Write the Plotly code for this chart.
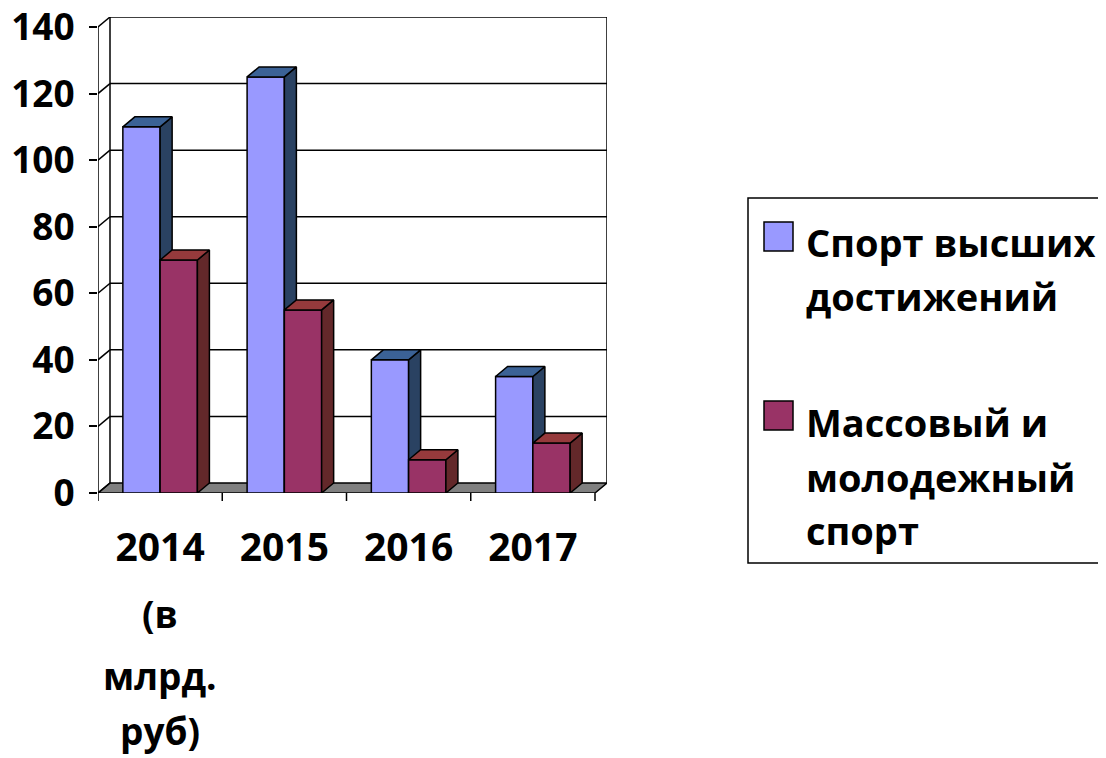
import plotly.graph_objects as go

# ---------------- data ----------------
years = ["2014", "2015", "2016", "2017"]
elite_sport = [110, 125, 40, 35]      # Спорт высших достижений
mass_sport = [70, 55, 10, 15]         # Массовый и молодежный спорт
series_names = ["Спорт высших достижений", "Массовый и молодежный спорт"]
legend_lines = [["Спорт высших", "достижений"], ["Массовый и", "молодежный", "спорт"]]
unit_note = ["(в", "млрд.", "руб)"]
y_ticks = [0, 20, 40, 60, 80, 100, 120, 140]

# ---------------- styling / geometry ----------------
FONT = "Open Sans"
BW = 0.3            # bar width (category units)
DX = 0.0966         # 3D depth offset in x units
DY = 3.0            # 3D depth offset in y units
YMAX = 140
X0, X1 = -0.5, len(years) - 0.5

PAGE = 8            # browser body margin (page offset of the figure)
W, H = 1106, 758
# plot area in screenshot pixels: x 98..607, y 17..493
L = 98 - PAGE
T = 17 - PAGE
R = W - (607 - PAGE)
B = H - (493 - PAGE)
PW = W - L - R
PH = H - T - B


def px_to_paper_x(px):
    return (px - PAGE - L) / PW


def px_to_paper_y(py):
    return (H - B - (py - PAGE)) / PH


colors = [
    dict(front="#9999FF", side="#2A4262", top="#3B6296"),
    dict(front="#993366", side="#63282A", top="#963A3C"),
]


def faces(values, off):
    fx, fy, sx, sy, tx, ty = [], [], [], [], [], []
    for i, v in enumerate(values):
        a = i + off
        b = a + BW
        fx += [a, b, b, a, a, None]
        fy += [0, 0, v, v, 0, None]
        sx += [b, b + DX, b + DX, b, b, None]
        sy += [0, DY, v + DY, v, 0, None]
        tx += [a, b, b + DX, a + DX, a, None]
        ty += [v, v, v + DY, v + DY, v, None]
    return (fx, fy), (sx, sy), (tx, ty)


fig = go.Figure()

for k, (vals, off) in enumerate([(elite_sport, -BW), (mass_sport, 0.0)]):
    front, side, top = faces(vals, off)
    for (xs, ys), key in [(front, "front"), (side, "side"), (top, "top")]:
        fig.add_trace(go.Scatter(
            x=xs, y=ys, mode="lines", fill="toself",
            fillcolor=colors[k][key],
            line=dict(color="black", width=1.5),
            name=series_names[k], showlegend=False, hoverinfo="skip",
        ))

shapes = []
line_k = dict(color="black", width=1.5)
# floor
shapes.append(dict(type="path", xref="x", yref="y", layer="below",
                   path=f"M {X0},0 L {X1},0 L {X1+DX},{DY} L {X0+DX},{DY} Z",
                   fillcolor="#808080", line=line_k))
# back wall gridlines and connectors
for v in y_ticks:
    if v > 0:
        shapes.append(dict(type="line", xref="x", yref="y", layer="below",
                           x0=X0 + DX, x1=X1 + DX, y0=v + DY, y1=v + DY, line=line_k))
    shapes.append(dict(type="line", xref="x", yref="y", layer="below",
                       x0=X0, x1=X0 + DX, y0=v, y1=v + DY, line=line_k))
# back wall left/right edges
shapes.append(dict(type="line", xref="x", yref="y", layer="below",
                   x0=X0 + DX, x1=X0 + DX, y0=DY, y1=YMAX + DY, line=line_k))
shapes.append(dict(type="line", xref="x", yref="y", layer="below",
                   x0=X1 + DX, x1=X1 + DX, y0=DY, y1=YMAX + DY, line=line_k))
# front y axis line
shapes.append(dict(type="line", xref="x", yref="y",
                   x0=X0, x1=X0, y0=0, y1=YMAX, line=line_k))
# x-axis tick marks at category boundaries
for i in range(len(years) + 1):
    xb = X0 + i
    shapes.append(dict(type="line", xref="x", yref="paper",
                       x0=xb, x1=xb, y0=0, y1=-8 / PH, line=line_k))

# legend box and swatches
shapes.append(dict(type="rect", xref="paper", yref="paper",
                   x0=px_to_paper_x(748), x1=px_to_paper_x(1106),
                   y0=px_to_paper_y(563), y1=px_to_paper_y(198),
                   line=dict(color="black", width=1.5), fillcolor="rgba(0,0,0,0)"))
sw_top = [222, 401]
for k, ty in enumerate(sw_top):
    shapes.append(dict(type="rect", xref="paper", yref="paper",
                       x0=px_to_paper_x(764), x1=px_to_paper_x(793),
                       y0=px_to_paper_y(ty + 29), y1=px_to_paper_y(ty),
                       line=dict(color="black", width=1.5), fillcolor=colors[k]["front"]))

annotations = []
bold = dict(family=FONT, size=38, color="black", weight="bold")
legend_y = [[242, 296], [422, 477, 530]]
for k, lines in enumerate(legend_lines):
    for txt, py in zip(lines, legend_y[k]):
        annotations.append(dict(text=txt, xref="paper", yref="paper",
                                x=px_to_paper_x(804), y=px_to_paper_y(py),
                                xanchor="left", yanchor="middle", showarrow=False,
                                font=bold))
for txt, py in zip(unit_note, [613, 675, 730]):
    annotations.append(dict(text=txt, xref="x", yref="paper", x=0,
                            y=px_to_paper_y(py), xanchor="center", yanchor="middle",
                            showarrow=False, font=dict(bold, size=37)))

fig.update_layout(
    width=W, height=H,
    margin=dict(l=L, r=R, t=T, b=B),
    paper_bgcolor="white", plot_bgcolor="white",
    showlegend=False,
    shapes=shapes, annotations=annotations,
    xaxis=dict(range=[X0, X1 + DX], tickvals=list(range(len(years))), ticktext=years,
               showgrid=False, zeroline=False, showline=False, ticks="",
               automargin=False, ticklabelstandoff=28, ticklabeloverflow="allow",
               tickfont=dict(family=FONT, size=39, color="black", weight="bold")),
    yaxis=dict(range=[0, YMAX + DY], tickvals=y_ticks, showgrid=False, zeroline=False,
               showline=False, ticks="outside", ticklen=8, tickwidth=1.5, tickcolor="black",
               automargin=False, ticklabelstandoff=7, ticklabeloverflow="allow",
               tickfont=dict(family=FONT, size=37, color="black", weight="bold")),
)

fig.write_html("out.html")
